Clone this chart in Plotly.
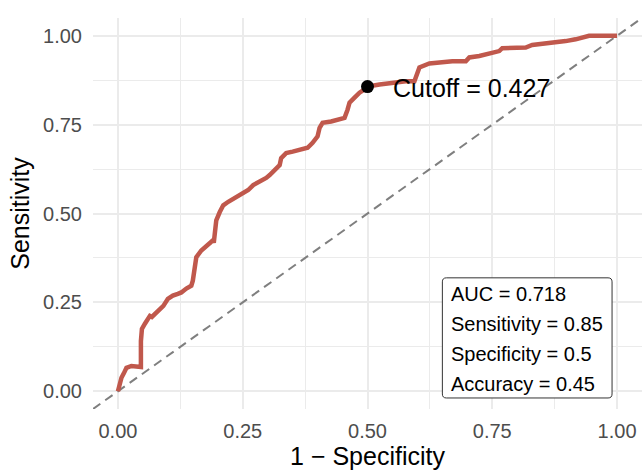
import plotly.graph_objects as go

# ROC curve values
fpr = [0.000, 0.007, 0.012, 0.017, 0.027, 0.037, 0.042, 0.046, 0.046, 0.048, 0.054, 0.064,
       0.068, 0.077, 0.091, 0.100, 0.110, 0.120, 0.127, 0.137, 0.147, 0.150, 0.152, 0.157,
       0.167, 0.180, 0.190, 0.192, 0.194, 0.197, 0.204, 0.211, 0.221, 0.234, 0.247, 0.261,
       0.271, 0.284, 0.297, 0.304, 0.314, 0.324, 0.327, 0.337, 0.350, 0.367, 0.380, 0.390,
       0.400, 0.404, 0.410, 0.427, 0.440, 0.454, 0.460, 0.464, 0.474, 0.484, 0.494, 0.500,
       0.524, 0.550, 0.577, 0.594, 0.600, 0.604, 0.624, 0.644, 0.670, 0.697, 0.704, 0.724,
       0.744, 0.764, 0.770, 0.817, 0.830, 0.844, 0.870, 0.897, 0.917, 0.937, 0.944, 1.000]
tpr = [0.000, 0.038, 0.051, 0.066, 0.071, 0.071, 0.068, 0.068, 0.141, 0.175, 0.190, 0.212,
       0.209, 0.221, 0.240, 0.260, 0.269, 0.274, 0.278, 0.289, 0.297, 0.311, 0.334, 0.377,
       0.396, 0.410, 0.424, 0.418, 0.462, 0.481, 0.504, 0.523, 0.533, 0.543, 0.552, 0.566,
       0.580, 0.589, 0.600, 0.608, 0.622, 0.636, 0.656, 0.670, 0.674, 0.679, 0.685, 0.699,
       0.717, 0.741, 0.755, 0.759, 0.764, 0.769, 0.792, 0.812, 0.826, 0.840, 0.849, 0.857,
       0.863, 0.868, 0.872, 0.872, 0.891, 0.911, 0.922, 0.925, 0.928, 0.928, 0.939, 0.943,
       0.950, 0.957, 0.965, 0.967, 0.974, 0.976, 0.982, 0.985, 0.990, 0.997, 1.000, 1.000]

cutoff_x = [0.500]
cutoff_y = [0.857]
cutoff_label = "Cutoff = 0.427"

stats_labels = ["AUC = 0.718", "Sensitivity = 0.85", "Specificity = 0.5", "Accuracy = 0.45"]
stats_y = [0.2735, 0.189, 0.104, 0.019]

ref_line = [-0.05, 1.05]
tick_vals = [0, 0.25, 0.5, 0.75, 1.0]
tick_text = ["0.00", "0.25", "0.50", "0.75", "1.00"]

FONT = "Arial, Liberation Sans, sans-serif"
GRID = "#EBEBEB"

fig = go.Figure()
fig.add_trace(go.Scatter(x=ref_line, y=ref_line, mode="lines",
                         line=dict(color="#7F7F7F", width=2, dash="9px,6px"),
                         hoverinfo="skip", showlegend=False))
fig.add_trace(go.Scatter(x=fpr, y=tpr, mode="lines",
                         line=dict(color="#C0584C", width=4.5),
                         showlegend=False))
fig.add_trace(go.Scatter(x=cutoff_x, y=cutoff_y, mode="markers",
                         marker=dict(color="black", size=13),
                         showlegend=False))

fig.add_annotation(x=0.547, y=0.854, xref="x", yref="y", text=cutoff_label,
                   showarrow=False, xanchor="left", yanchor="middle",
                   font=dict(family=FONT, size=25, color="black"))

# stats box (rounded rectangle)
x0, x1, y0, y1, r = 0.65, 0.99, -0.019, 0.319, 0.008
ry = r * 500 / 353.5
path = (f"M {x0+r},{y0} L {x1-r},{y0} Q {x1},{y0} {x1},{y0+ry} "
        f"L {x1},{y1-ry} Q {x1},{y1} {x1-r},{y1} L {x0+r},{y1} Q {x0},{y1} {x0},{y1-ry} "
        f"L {x0},{y0+ry} Q {x0},{y0} {x0+r},{y0} Z")
fig.add_shape(type="path", path=path, xref="x", yref="y",
              line=dict(color="#333333", width=1), fillcolor="white", layer="above")
for lab, yy in zip(stats_labels, stats_y):
    fig.add_annotation(x=0.663, y=yy, xref="x", yref="y", text=lab, showarrow=False,
                       xanchor="left", yanchor="middle",
                       font=dict(family=FONT, size=20, color="black"))

axis_common = dict(
    range=[-0.05, 1.05], tickvals=tick_vals, ticktext=tick_text,
    showgrid=True, gridcolor=GRID, gridwidth=2, zeroline=False, showline=False,
    ticks="", tickfont=dict(family=FONT, size=20, color="#4D4D4D"),
    minor=dict(dtick=0.125, tick0=0.125, showgrid=True, gridcolor=GRID, gridwidth=1),
    title_font=dict(family=FONT, size=25, color="black"),
)
fig.update_xaxes(**axis_common, title_text="1 \u2212 Specificity", title_standoff=5,
                 ticklabelstandoff=8)
fig.update_yaxes(**axis_common, title_text="Sensitivity", title_standoff=6,
                 ticklabelstandoff=10)

fig.update_layout(width=642, height=470, plot_bgcolor="white", paper_bgcolor="white",
                  margin=dict(l=93, r=0, t=18, b=61), showlegend=False,
                  font=dict(family=FONT))
fig.write_html("out.html", config={"displayModeBar": False},
               post_script="document.body.style.margin='0';document.body.style.overflow='hidden';")
